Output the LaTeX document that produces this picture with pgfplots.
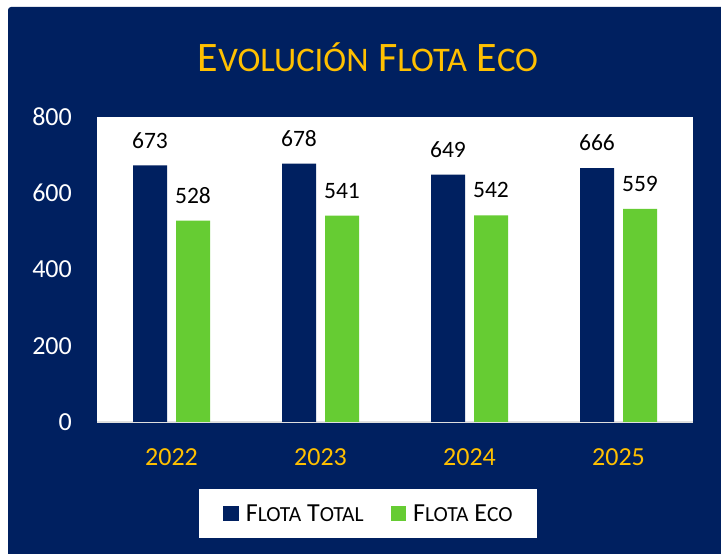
\documentclass[border=0pt]{standalone}
\usepackage{pgfplots}
\pgfplotsset{compat=1.18}
\usepackage{fontspec}
\setmainfont{Carlito}
\definecolor{navy}{HTML}{002060}
\definecolor{ecogreen}{HTML}{66CC33}
\definecolor{gold}{HTML}{FFC000}
\newcommand{\tsc}[1]{{\fontsize{34.5bp}{40bp}\selectfont #1}}
\newcommand{\lsc}[1]{{\fontsize{21.5bp}{25bp}\selectfont #1}}
\pgfplotsset{/pgf/number format/assume math mode=true}
\begin{document}
\begin{tikzpicture}[x=1bp,y=1bp]
\path[use as bounding box] (0,0) rectangle (721,554);
\fill[navy, rounded corners=3bp] (8,-10) rectangle (731,547);
\node[anchor=base, text=gold, inner sep=0pt] at (368,482) {\fontsize{42bp}{48bp}\selectfont E\tsc{VOLUCIÓN} F\tsc{LOTA} E\tsc{CO}};
\begin{axis}[
  at={(97bp,132bp)}, anchor=south west,
  scale only axis, width=596bp, height=305bp,
  xmin=-0.5, xmax=3.5, ymin=0, ymax=800,
  ybar=9bp, bar width=34bp,
  xtick={0,1,2,3}, xticklabels={2022,2023,2024,2025},
  ytick={0,200,400,600,800},
  major tick length=0pt,
  axis background/.style={fill=white},
  axis x line=bottom, axis y line=left,
  axis line style={-},
  x axis line style={draw=gray!25, line width=1.5bp},
  y axis line style={draw=none},
  yticklabel style={text=white, font=\fontsize{26bp}{30bp}\selectfont, inner sep=0pt, xshift=-25bp},
  xticklabel style={text=gold, font=\fontsize{26bp}{30bp}\selectfont, inner sep=0pt, yshift=-26bp},
  nodes near coords,
  every node near coord/.append style={font=\fontsize{23.5bp}{27bp}\selectfont, text=black, inner sep=0pt, anchor=south, yshift=17bp},
  clip=false,
  legend columns=2,
  legend image code/.code={\fill[#1] (0bp,-7.75bp) rectangle (15.5bp,7.75bp);},
  legend style={at={(0.4547,-0.3)}, anchor=center, fill=white, draw=none,
    font=\fontsize{26bp}{30bp}\selectfont,
    inner xsep=24bp, inner ysep=16bp,
    nodes={inner sep=0pt, text depth=0pt},
    cells={anchor=center},
    /tikz/every odd column/.append style={column sep=7bp},
    /tikz/every even column/.append style={column sep=27bp}},
]
\addplot[fill=navy, draw=none] coordinates {(0,673) (1,678) (2,649) (3,666)};
\addplot[fill=ecogreen, draw=none] coordinates {(0,528) (1,541) (2,542) (3,559)};
\legend{F\lsc{LOTA} T\lsc{OTAL}, F\lsc{LOTA} E\lsc{CO}}
\end{axis}
\end{tikzpicture}
\end{document}
